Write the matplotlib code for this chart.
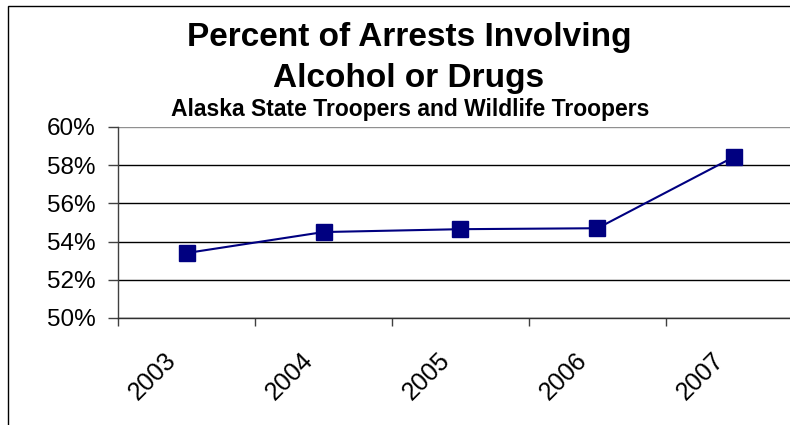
import matplotlib
matplotlib.use("Agg")
import matplotlib.pyplot as plt
from matplotlib.patches import Rectangle
from matplotlib.ticker import FixedLocator, PercentFormatter
from matplotlib.transforms import ScaledTranslation

# Data
years = ["2003", "2004", "2005", "2006", "2007"]
pct_arrests = [53.4, 54.5, 54.65, 54.7, 58.45]
y_ticks = [50, 52, 54, 56, 58, 60]

plt.rcParams['font.family'] = ['Liberation Sans', 'DejaVu Sans']

fig = plt.figure(figsize=(7.9, 4.25), dpi=100)

# outer chart border (right and bottom edges run off the picture)
fig.patches.append(Rectangle((8 / 790, -0.1), 1.2, 1 - 6 / 425 + 0.1, transform=fig.transFigure,
                             fill=False, edgecolor='black', linewidth=1.0))

ax = fig.add_axes([118 / 790, 1 - 318 / 425, 685 / 790, 191 / 425])

x = list(range(len(years)))
ax.plot(x, pct_arrests, color='#000080', linewidth=1.5, marker='s', markersize=12,
        markerfacecolor='#000080', markeredgecolor='#000080', zorder=3)

ax.set_xlim(-0.5, len(years) - 0.5)
ax.set_ylim(50, 60)

# y axis
ax.set_yticks(y_ticks)
ax.yaxis.set_major_formatter(PercentFormatter(decimals=0))
ax.tick_params(axis='y', direction='out', length=7.2, width=1, color='#404040',
               labelsize=17.5, pad=9)
ax.yaxis.grid(True, color='black', linewidth=1.0)
ax.set_axisbelow(True)
ax.get_ygridlines()[-1].set_color('#909090')

# x axis: ticks between categories, labels at centers
ax.xaxis.set_major_locator(FixedLocator([i - 0.5 for i in range(len(years) + 1)]))
ax.xaxis.set_major_formatter(plt.NullFormatter())
ax.xaxis.set_minor_locator(FixedLocator(x))
ax.set_xticklabels(years, minor=True, rotation=45, ha='center', va='center')
ax.tick_params(axis='x', which='major', direction='out', length=6, width=1, color='#404040')
ax.tick_params(axis='x', which='minor', length=0, labelsize=18, pad=42)
shift = ScaledTranslation(-34 / 100, 0, fig.dpi_scale_trans)
for lbl in ax.get_xticklabels(minor=True):
    lbl.set_transform(lbl.get_transform() + shift)

for side in ['top', 'right']:
    ax.spines[side].set_visible(False)
ax.spines['left'].set_color('#404040')
ax.spines['bottom'].set_color('#303030')
ax.spines['left'].set_linewidth(1.0)
ax.spines['bottom'].set_linewidth(1.0)

# titles
fig.text(409 / 790, 1 - 46 / 425, "Percent of Arrests Involving", ha='center', va='baseline',
         fontsize=24, fontweight='bold')
fig.text(409 / 790, 1 - 87 / 425, "Alcohol or Drugs", ha='center', va='baseline',
         fontsize=24, fontweight='bold')
fig.text(410 / 790, 1 - 116 / 425, "Alaska State Troopers and Wildlife Troopers", ha='center',
         va='baseline', fontsize=16.5, fontweight='bold')

fig.savefig("out.png", dpi=100)
